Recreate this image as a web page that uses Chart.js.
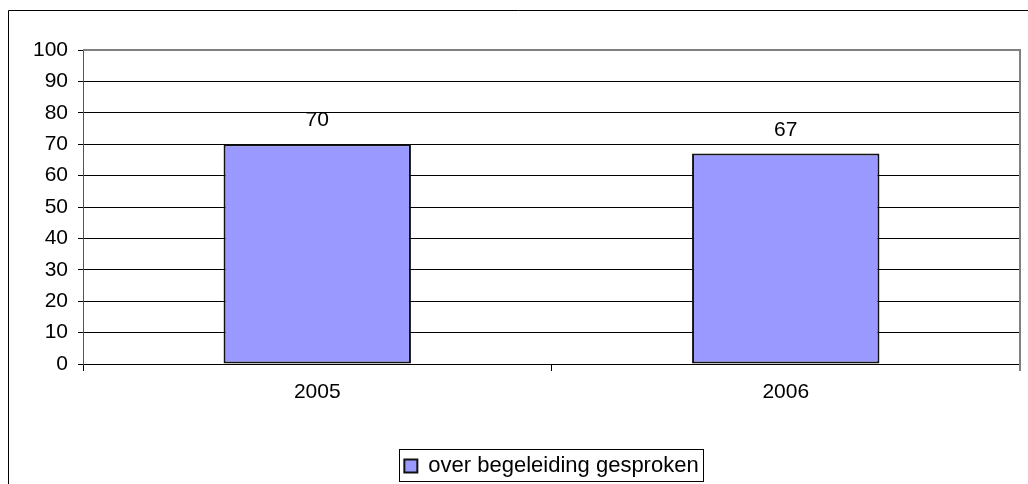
<!DOCTYPE html>
<html>
<head>
<meta charset="utf-8">
<script src="https://cdn.jsdelivr.net/npm/chart.js@4/dist/chart.umd.min.js"></script>
<style>
  body { margin: 0; background: #fff; }
  #wrap { width: 1028px; height: 484px; }
</style>
</head>
<body>
<div id="wrap"><canvas id="myChart"></canvas></div>
<script>
const jaren = ['2005', '2006'];
const gesproken = [70, 67];
const reeksNaam = 'over begeleiding gesproken';
const yMin = 0, yMax = 100, yStap = 10;

const font = { family: '"Liberation Sans", Arial, sans-serif', size: 21 };

// frame, plot border, value labels and legend box
const extras = {
  id: 'extras',
  afterLayout(chart) {
    // centre the legend under the plot area, not the whole canvas
    const lg = chart.legend, a = chart.chartArea;
    const dx = (a.left + a.right) / 2 - (lg.left + lg.right) / 2;
    lg.left += dx;
    lg.right += dx;
    lg.top += 5;
    lg.bottom += 5;
  },
  afterDraw(chart) {
    const c = chart.ctx, a = chart.chartArea;
    c.save();
    c.lineWidth = 1;
    c.strokeStyle = '#000';
    c.beginPath();
    c.moveTo(8.5, 484); c.lineTo(8.5, 10.5); c.lineTo(1028, 10.5);
    c.stroke();

    c.strokeStyle = '#808080';
    c.lineWidth = 2;
    c.beginPath();
    c.moveTo(a.left, a.top); c.lineTo(a.right, a.top); c.lineTo(a.right, a.bottom + 7);
    c.stroke();

    c.fillStyle = '#000';
    c.font = font.size + 'px ' + font.family;
    c.textAlign = 'center';
    c.textBaseline = 'alphabetic';
    chart.getDatasetMeta(0).data.forEach((bar, i) => {
      c.fillText(gesproken[i], bar.x, bar.y - 18);
    });

    const hb = chart.legend.legendHitBoxes[0];
    if (hb) {
      c.strokeStyle = '#000';
      c.lineWidth = 1;
      c.strokeRect(Math.round(hb.left) - 4.5, Math.round(hb.top) - 5.5, Math.round(hb.width) + 10, Math.round(hb.height) + 10);
    }
    c.restore();
  }
};

new Chart(document.getElementById('myChart'), {
  type: 'bar',
  data: {
    labels: jaren,
    datasets: [{
      label: reeksNaam,
      data: gesproken,
      backgroundColor: '#9999FF',
      borderColor: '#111',
      borderWidth: 2,
      borderSkipped: false,
      barPercentage: 0.4,
      categoryPercentage: 1
    }]
  },
  options: {
    responsive: true,
    maintainAspectRatio: false,
    animation: false,
    layout: { padding: { left: 0, right: 8, top: 50, bottom: 2 } },
    plugins: {
      tooltip: { enabled: false },
      legend: {
        position: 'bottom',
        labels: {
          color: '#000',
          font: { family: font.family, size: 22 },
          boxWidth: 13,
          boxHeight: 13,
          padding: 4
        }
      }
    },
    scales: {
      x: {
        grid: { drawOnChartArea: false, offset: true, color: '#000', tickLength: 7 },
        border: { color: '#000' },
        ticks: { color: '#000', font: font, padding: 9 },
        afterFit(s) { s.height = 82; }
      },
      y: {
        min: yMin,
        max: yMax,
        ticks: { stepSize: yStap, color: '#000', font: font, padding: 10 },
        grid: { color: '#000', tickLength: 5 },
        border: { color: '#555' },
        afterFit(s) { s.width = 83; }
      }
    }
  },
  plugins: [extras]
});
</script>
</body>
</html>
